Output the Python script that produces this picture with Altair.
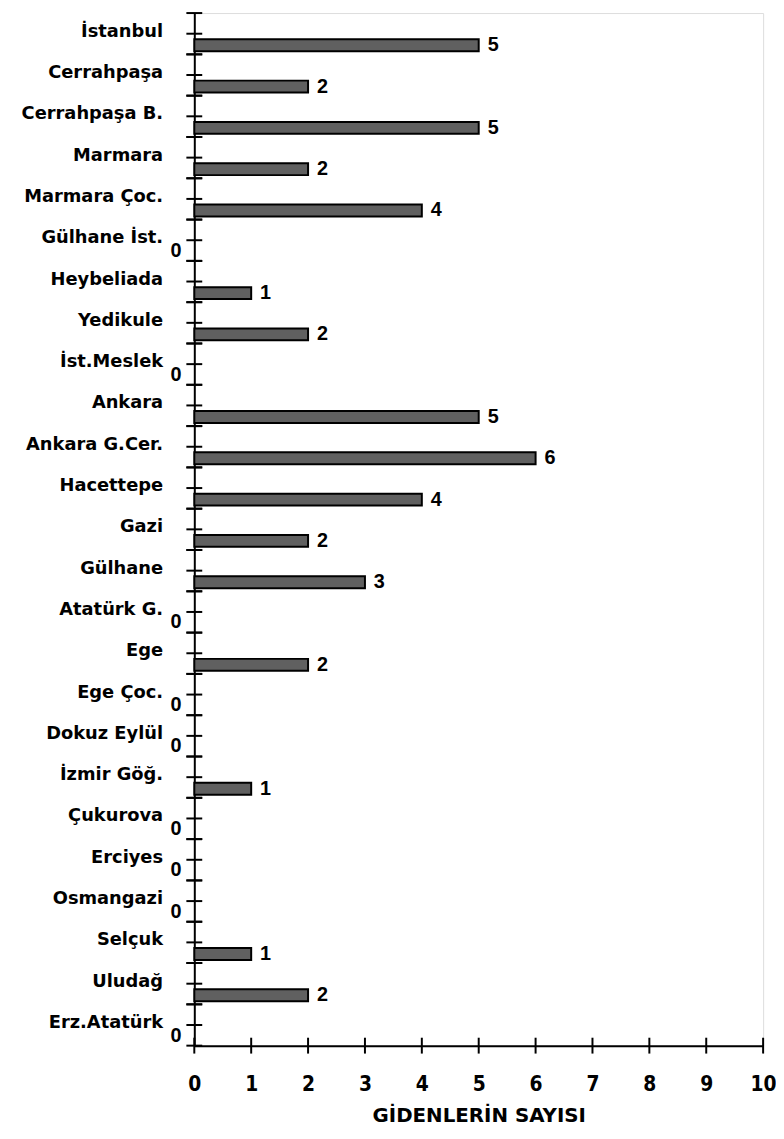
import altair as alt
import pandas as pd

categories = [
    "İstanbul", "Cerrahpaşa", "Cerrahpaşa B.", "Marmara", "Marmara Çoc.",
    "Gülhane İst.", "Heybeliada", "Yedikule", "İst.Meslek", "Ankara",
    "Ankara G.Cer.", "Hacettepe", "Gazi", "Gülhane", "Atatürk G.",
    "Ege", "Ege Çoc.", "Dokuz Eylül", "İzmir Göğ.", "Çukurova",
    "Erciyes", "Osmangazi", "Selçuk", "Uludağ", "Erz.Atatürk",
]
values = [5, 2, 5, 2, 4, 0, 1, 2, 0, 5, 6, 4, 2, 3, 0, 2, 0, 0, 1, 0, 0, 0, 1, 2, 0]
x_ticks = [0, 1, 2, 3, 4, 5, 6, 7, 8, 9, 10]
x_title = "GİDENLERİN SAYISI"

df = pd.DataFrame({"kurum": categories, "sayi": values})
cat_df = pd.DataFrame({"kurum": categories})
tick_df = pd.DataFrame({"t": x_ticks})

W = 574
H = 1042
band = H / len(categories)
off = 0.28 * band

LABEL_FONT = "DejaVu Sans"
NARROW = "Liberation Sans Narrow, DejaVu Sans Condensed, sans-serif"
VAL_FONT = "Liberation Sans, Arial, sans-serif"

x_scale = alt.Scale(domain=[0, 10], nice=False, zero=True)
y_scale = alt.Scale(domain=categories, paddingInner=0, paddingOuter=0)

y_axis = alt.Axis(
    title=None, ticks=False, tickSize=0, labelPadding=32, labelOffset=-2,
    labelFont=LABEL_FONT, labelFontWeight="bold", labelFontSize=18,
    labelColor="black", domainColor="black", domainWidth=2, grid=False,
    labelLimit=300,
)
x_axis = alt.Axis(
    values=x_ticks, format="d", title=x_title, ticks=False, tickSize=0,
    labelPadding=45, labelBaseline="alphabetic", labelOverlap=False, labelFlush=False,
    labelFont=NARROW, labelFontWeight="bold", labelFontSize=21,
    labelColor="black", domainColor="black", domainWidth=2, grid=False,
    titleFont=LABEL_FONT, titleFontWeight="bold", titleFontSize=20,
    titleColor="black", titleBaseline="alphabetic", titleY=77,
)

base = alt.Chart(df)

bars = base.transform_filter("datum.sayi > 0").mark_bar(
    height=12, yOffset=off, color="#606060", stroke="black", strokeWidth=2
).encode(
    x=alt.X("sayi:Q", scale=x_scale, axis=x_axis),
    y=alt.Y("kurum:N", sort=categories, scale=y_scale, axis=y_axis),
)

val_labels = base.transform_filter("datum.sayi > 0").mark_text(
    align="left", baseline="middle", dx=9, yOffset=off,
    font=VAL_FONT, fontWeight="bold", fontSize=20, color="black",
).encode(
    x=alt.X("sayi:Q", scale=x_scale),
    y=alt.Y("kurum:N", sort=categories, scale=y_scale),
    text=alt.Text("sayi:Q"),
)

zero_labels = base.transform_filter("datum.sayi == 0").mark_text(
    align="right", baseline="middle", dx=-13, yOffset=off - 1,
    font=VAL_FONT, fontWeight="bold", fontSize=20, color="black",
).encode(
    x=alt.X("sayi:Q", scale=x_scale),
    y=alt.Y("kurum:N", sort=categories, scale=y_scale),
    text=alt.Text("sayi:Q"),
)

def ytick(pos):
    return alt.Chart(cat_df).mark_rule(color="black", strokeWidth=2).encode(
        y=alt.Y("kurum:N", sort=categories, scale=y_scale, bandPosition=pos),
        x=alt.value(-8),
        x2=alt.value(8),
    )

xticks = alt.Chart(tick_df).mark_rule(color="black", strokeWidth=2).encode(
    x=alt.X("t:Q", scale=x_scale),
    y=alt.value(H - 8),
    y2=alt.value(H + 8),
)

chart = alt.layer(
    bars, val_labels, zero_labels, ytick(0), ytick(0.5), ytick(1), xticks
).properties(
    width=W, height=H,
    autosize=alt.AutoSizeParams(type="none"),
    padding={"left": 188, "top": 0, "right": 13, "bottom": 78},
).configure_view(stroke=None).configure(background="white")

chart.save("out.html", embed_options={"renderer": "svg", "actions": False})
